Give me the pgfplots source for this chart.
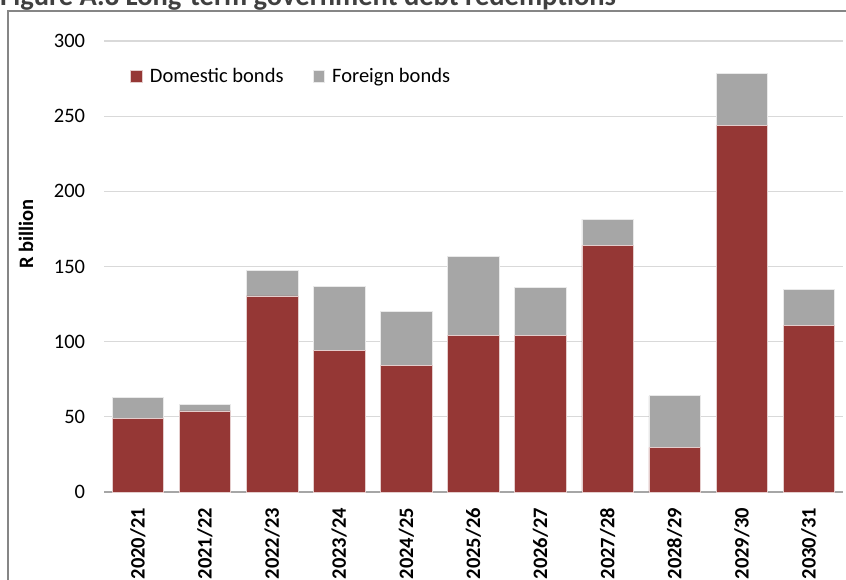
\documentclass[border=0pt]{standalone}
\usepackage{fontspec}
\setmainfont{Carlito}
\usepackage{pgfplots}
\pgfplotsset{compat=1.18}
\definecolor{domred}{RGB}{149,55,53}
\definecolor{forgray}{RGB}{166,166,166}
\definecolor{gridgray}{RGB}{217,217,217}
\definecolor{framegray}{RGB}{134,134,134}
\definecolor{titlegray}{RGB}{64,64,64}
\begin{document}
\begin{tikzpicture}[x=1pt,y=1pt]
\useasboundingbox (0,0) rectangle (846,580);
% frame
\draw[framegray,line width=1.3pt] (8,-20) -- (8,569) -- (870,569);
% title (partly cut off at the top, as in the source)
\node[anchor=base west,inner sep=0pt,text=titlegray,font=\fontsize{28.5}{30}\selectfont\bfseries] at (0,574) {Figure A.8 Long-term government debt redemptions};
\begin{axis}[
  at={(104.3pt,88pt)}, anchor=south west,
  scale only axis, width=738.2pt, height=451pt,
  ybar stacked, bar width=51.5pt,
  xmin=-0.5, xmax=10.5, ymin=0, ymax=300,
  ytick={0,50,100,150,200,250,300},
  xtick={0,...,10},
  xticklabels={2020/21,2021/22,2022/23,2023/24,2024/25,2025/26,2026/27,2027/28,2028/29,2029/30,2030/31},
  ymajorgrids, grid style={gridgray,line width=1.2pt},
  axis line style={draw=none},
  major tick length=0pt,
  tick style={draw=none},
  every tick label/.append style={inner sep=0pt,font=\fontsize{20.5}{22}\selectfont},
  yticklabel shift=19pt,
  xticklabel shift=16pt,
  xticklabel style={rotate=90,anchor=east,font=\fontsize{20.5}{22}\selectfont\bfseries},
  /pgf/number format/assume math mode=true,
  legend columns=2,
  legend style={draw=none,fill=none,inner sep=0pt,at={(axis description cs:0.035,0.921)},anchor=west,
    font=\fontsize{20.5}{22}\selectfont,
    /tikz/every even column/.append style={column sep=26pt},
    nodes={inner xsep=3pt,inner ysep=2pt}},
  legend image code/.code={\fill[#1] (0pt,-6pt) rectangle (11.5pt,6pt); \path (16pt,0pt);},
  clip=false,
]
\addplot[fill=domred,draw=white!75!domred,line width=0.6pt] coordinates {
(0,49) (1,54) (2,130.5) (3,94) (4,84) (5,104) (6,104) (7,164) (8,29.5) (9,244) (10,111)};
\addplot[fill=forgray,draw=white!75!forgray,line width=0.6pt] coordinates {
(0,14) (1,4.5) (2,17) (3,43) (4,36) (5,52.5) (6,32) (7,17.5) (8,34.5) (9,34.5) (10,24)};
\legend{Domestic bonds,Foreign bonds}
\draw[gray!70,line width=1.2pt] (axis cs:-0.5,0) -- (axis cs:10.5,0);
\end{axis}
\node[rotate=90,font=\fontsize{20.5}{22}\selectfont\bfseries] at (26,346) {R billion};
\end{tikzpicture}
\end{document}
